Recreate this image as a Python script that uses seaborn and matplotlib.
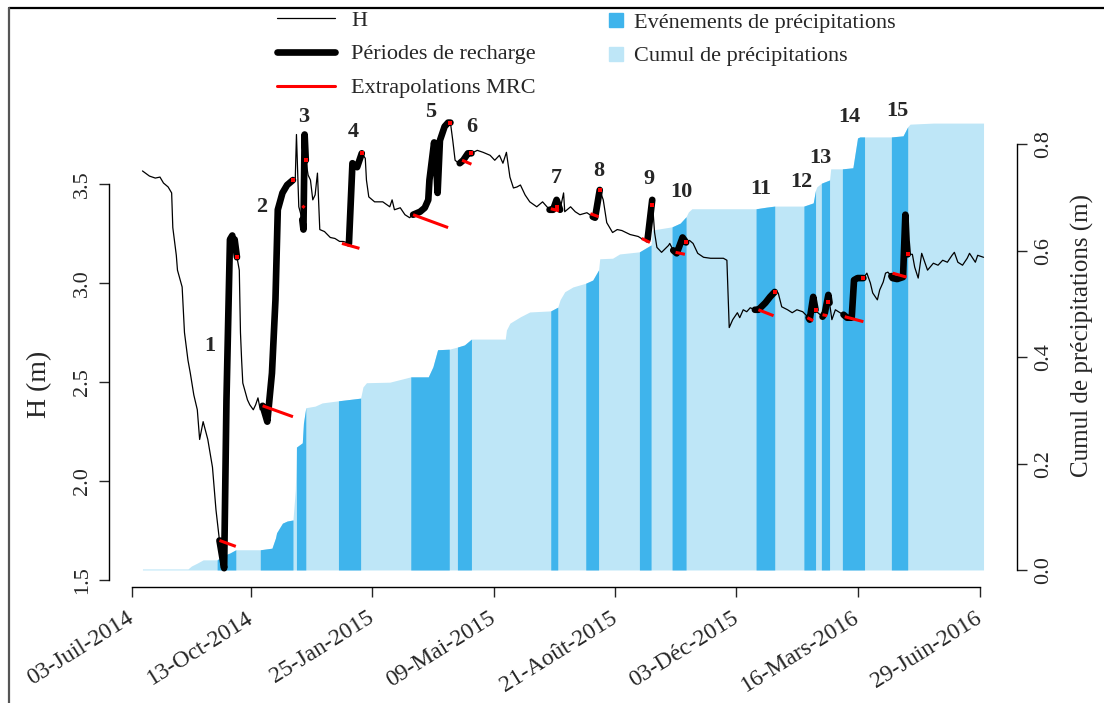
import numpy as np
import pandas as pd
import matplotlib
matplotlib.use("Agg")
import matplotlib.pyplot as plt
import matplotlib.dates as mdates
from matplotlib.lines import Line2D
import seaborn as sns

# ========== Données (jours depuis le 03-Juil-2014) ==========
h_days = [9, 15, 20, 24, 27, 31, 34, 35, 38, 39, 43, 45, 48, 50, 53, 56, 58, 61, 65, 69,
          72, 75, 79, 81, 84, 86, 87, 88, 90, 92, 93, 94, 95, 99, 101, 104, 106, 108, 110, 112,
          116, 117, 120, 123, 125, 129, 133, 138, 140, 141, 143, 146, 147, 148, 149, 151, 153, 155, 157, 159,
          161, 165, 170, 174, 178, 181, 184, 186, 189, 193, 195, 197, 200, 201, 203, 208, 215, 221, 223, 225,
          230, 234, 238, 241, 247, 251, 254, 255, 259, 261, 262, 264, 266, 268, 271, 273, 275, 277, 279, 281,
          284, 288, 291, 296, 301, 307, 311, 315, 318, 321, 324, 327, 330, 333, 337, 341, 347, 352, 358, 361,
          364, 367, 370, 371, 376, 380, 384, 390, 395, 397, 401, 404, 407, 412, 416, 420, 427, 434, 438, 442,
          446, 448, 450, 454, 460, 461, 464, 467, 472, 475, 478, 481, 485, 490, 496, 502, 507, 510, 512, 515,
          519, 521, 524, 527, 530, 534, 537, 543, 547, 551, 554, 557, 562, 566, 570, 575, 580, 581, 584, 586,
          588, 592, 594, 597, 598, 600, 603, 607, 610, 613, 617, 619, 622, 627, 630, 633, 635, 639, 641, 644,
          646, 648, 651, 652, 656, 661, 663, 664, 665, 669, 671, 674, 677, 682, 687, 691, 695, 699, 703, 705,
          708, 712, 716, 718, 723, 725, 730]
h_vals = [3.566, 3.54, 3.53, 3.535, 3.505, 3.485, 3.455, 3.28, 3.14, 3.065, 2.98, 2.75, 2.61, 2.545, 2.435, 2.36, 2.21, 2.30, 2.21, 2.07,
          1.855, 1.70, 1.56, 2.41, 3.22, 3.24, 3.17, 3.22, 3.13, 3.065, 2.75, 2.61, 2.495, 2.41, 2.385, 2.36, 2.385, 2.42, 2.36, 2.38,
          2.30, 2.36, 2.545, 2.915, 3.37, 3.455, 3.495, 3.52, 3.53, 3.75, 3.385, 3.32, 3.27, 3.75, 3.62, 3.545, 3.52, 3.42, 3.445, 3.555,
          3.27, 3.26, 3.23, 3.225, 3.21, 3.21, 3.205, 3.20, 3.605, 3.585, 3.62, 3.655, 3.63, 3.52, 3.435, 3.41, 3.41, 3.385, 3.42, 3.37,
          3.38, 3.345, 3.33, 3.345, 3.36, 3.38, 3.42, 3.52, 3.71, 3.57, 3.455, 3.72, 3.755, 3.79, 3.81, 3.81, 3.72, 3.62, 3.61, 3.605,
          3.62, 3.655, 3.655, 3.67, 3.66, 3.645, 3.62, 3.645, 3.605, 3.66, 3.535, 3.48, 3.485, 3.495, 3.445, 3.41, 3.385, 3.41, 3.37, 3.37,
          3.42, 3.37, 3.455, 3.36, 3.385, 3.36, 3.345, 3.355, 3.335, 3.33, 3.47, 3.42, 3.305, 3.255, 3.27, 3.265, 3.245, 3.235, 3.22, 3.22,
          3.42, 3.255, 3.18, 3.155, 3.19, 3.20, 3.165, 3.15, 3.23, 3.205, 3.215, 3.20, 3.15, 3.13, 3.125, 3.125, 3.125, 3.115, 2.775, 2.815,
          2.85, 2.825, 2.865, 2.855, 2.875, 2.865, 2.865, 2.90, 2.93, 2.955, 2.95, 2.88, 2.865, 2.85, 2.865, 2.855, 2.825, 2.815, 2.93, 2.865,
          2.85, 2.83, 2.85, 2.94, 2.90, 2.815, 2.865, 2.85, 2.84, 2.825, 2.825, 3.015, 3.025, 3.025, 3.05, 3.00, 2.95, 2.915, 2.965, 3.005,
          3.05, 3.055, 3.035, 3.025, 3.02, 3.03, 3.345, 3.215, 3.145, 3.145, 3.08, 3.025, 3.15, 3.065, 3.10, 3.09, 3.115, 3.105, 3.14, 3.155,
          3.105, 3.09, 3.125, 3.15, 3.105, 3.14, 3.13]

# Périodes de recharge (début, fin) en jours
recharge_periods = [(75, 90), (112, 138), (146, 149), (186, 197), (241, 273), (281, 291), (358, 367),
                    (395, 401), (442, 446), (464, 475), (534, 551), (580, 586), (592, 598), (610, 627), (651, 665)]

# Extrapolations MRC : (jour début, H début, jour fin, H fin)
mrc_lines = [(75, 1.70, 89, 1.67), (112, 2.38, 138, 2.325), (146, 3.39, 148, 3.38), (180, 3.20, 195, 3.175),
             (241, 3.345, 271, 3.28), (283, 3.62, 291, 3.60), (359, 3.375, 366, 3.365), (393, 3.35, 400, 3.335),
             (437, 3.225, 444, 3.205), (466, 3.155, 474, 3.145), (537, 2.865, 550, 2.835), (579, 2.825, 584, 2.81),
             (592, 2.84, 596, 2.835), (611, 2.83, 627, 2.805), (652, 3.05, 664, 3.03)]
mrc_peak_days = [90, 138, 149, 197, 273, 291, 364, 401, 446, 475, 551, 586, 597, 627, 665]
mrc_peak_vals = [3.13, 3.52, 3.62, 3.655, 3.81, 3.655, 3.385, 3.47, 3.395, 3.205, 2.955, 2.865, 2.905, 3.025, 3.145]

# Cumul de précipitations (m)
cum_days = [9, 48, 51, 56, 61, 73, 77, 84, 89, 110, 120, 123, 124, 129, 133, 138, 140, 141, 146, 147,
            149, 157, 163, 177, 196, 198, 201, 221, 239, 254, 258, 262, 272, 279, 285, 291, 320, 321, 324, 333,
            341, 359, 365, 367, 371, 378, 389, 395, 400, 401, 412, 418, 435, 445, 446, 463, 470, 475, 477, 480,
            535, 544, 551, 576, 584, 586, 587, 591, 598, 599, 609, 618, 622, 624, 628, 651, 661, 665, 667, 687, 730]
cum_vals = [0.002, 0.002, 0.0075, 0.013, 0.019, 0.019, 0.026, 0.032, 0.038, 0.038, 0.041, 0.06, 0.07, 0.088, 0.092, 0.094, 0.15, 0.231, 0.239, 0.276,
            0.305, 0.308, 0.314, 0.318, 0.323, 0.344, 0.352, 0.353, 0.363, 0.363, 0.382, 0.414, 0.415, 0.419, 0.423, 0.434, 0.434, 0.451, 0.464, 0.476,
            0.485, 0.487, 0.494, 0.508, 0.523, 0.532, 0.539, 0.545, 0.564, 0.585, 0.586, 0.594, 0.598, 0.611, 0.639, 0.645, 0.652, 0.664, 0.673, 0.679,
            0.679, 0.682, 0.684, 0.684, 0.690, 0.714, 0.720, 0.727, 0.733, 0.754, 0.754, 0.756, 0.812, 0.814, 0.814, 0.814, 0.816, 0.833, 0.838, 0.840, 0.840]

# Evénements de précipitations (début, fin)
rain_events = [(73, 89), (110, 138), (141, 149), (177, 196), (239, 272), (279, 291), (359, 365), (389, 400),
               (435, 445), (463, 475), (535, 551), (576, 586), (591, 598), (609, 628), (651, 665)]

# Numéros des événements et leur position (jour, H)
event_labels = [str(i) for i in range(1, 16)]
event_label_days = [67, 111, 147, 190, 256, 291, 364, 400, 443, 471, 539, 574, 590, 615, 656]
event_label_h = [2.68, 3.384, 3.838, 3.763, 3.864, 3.788, 3.53, 3.566, 3.525, 3.46, 3.475, 3.51, 3.631, 3.838, 3.869]

tick_dates = ["2014-07-03", "2014-10-13", "2015-01-25", "2015-05-09", "2015-08-21", "2015-12-03", "2016-03-16", "2016-06-29"]
tick_labels = ["03-Juil-2014", "13-Oct-2014", "25-Jan-2015", "09-Mai-2015", "21-Août-2015", "03-Déc-2015",
               "16-Mars-2016", "29-Juin-2016"]

base = pd.Timestamp("2014-07-03")


def to_date(d):
    return base + pd.to_timedelta(np.asarray(d, dtype=float), unit="D")


# ========== Style ==========
sns.set_style("ticks")
plt.rcParams["font.family"] = ["Liberation Serif", "DejaVu Serif"]
plt.rcParams["font.size"] = 16

dark_blue = "#3FB4EC"
light_blue = "#BEE6F7"

fig = plt.figure(figsize=(11.04, 7.03), dpi=100)
W, Hpx = 1104, 703
ax = fig.add_axes([109 / W, (Hpx - 587) / Hpx, 908 / W, 482 / Hpx])
ax2 = ax.twinx()

# ========== Précipitations (axe droit) ==========
cum = pd.DataFrame({"day": cum_days, "cumul": cum_vals})
cum["date"] = to_date(cum["day"])
ax2.fill_between(cum["date"], 0, cum["cumul"], color=light_blue, lw=0)
for s, e in rain_events:
    sub = cum[(cum["day"] >= s) & (cum["day"] <= e)]
    ax2.fill_between(sub["date"], 0, sub["cumul"], color=dark_blue, lw=0)

# ========== Niveau H (axe gauche) ==========
df = pd.DataFrame({"day": h_days, "H": h_vals})
df["date"] = to_date(df["day"])
sns.lineplot(data=df, x="date", y="H", ax=ax, color="black", lw=0.9, estimator=None, sort=False)
for s, e in recharge_periods:
    sub = df[(df["day"] >= s) & (df["day"] <= e)]
    sns.lineplot(data=sub, x="date", y="H", ax=ax, color="black", lw=4.8, estimator=None, sort=False)
for d0, h0, d1, h1 in mrc_lines:
    ax.plot(to_date([d0, d1]), [h0, h1], color="red", lw=2.2, solid_capstyle="butt")
ax.scatter(to_date(mrc_peak_days), mrc_peak_vals, color="red", marker="s", s=10, lw=0, zorder=5)

for lab, d, h in zip(event_labels, event_label_days, event_label_h):
    ax.text(to_date([d])[0], h, lab, ha="center", va="center", fontsize=16, fontweight="bold")

ax.set_zorder(ax2.get_zorder() + 1)
ax.patch.set_visible(False)

# ========== Axes ==========
ax.set_xlim(to_date([-19.7])[0], to_date([758.7])[0])
ax.set_ylim(1.465, 3.899)
ax2.set_ylim(-0.032, 0.874)

td = pd.to_datetime(tick_dates)
ax.set_xticks(td)
ax.set_xticklabels(tick_labels, rotation=32, ha="right", va="center", rotation_mode="anchor")
ax.set_yticks([1.5, 2.0, 2.5, 3.0, 3.5])
ax.set_yticklabels(["1.5", "2.0", "2.5", "3.0", "3.5"], rotation=90, va="center")
ax2.set_yticks([0.0, 0.2, 0.4, 0.6, 0.8])
ax2.set_yticklabels(["0.0", "0.2", "0.4", "0.6", "0.8"], rotation=90, va="center")

ax.tick_params(axis="x", length=7, width=1, labelsize=17, pad=14)
ax.tick_params(axis="y", length=7, width=1, labelsize=16, pad=5)
ax2.tick_params(axis="y", length=7, width=1, labelsize=16, pad=5)
ax.set_xlabel("")
ax.set_ylabel("")

for sp in ["top", "right"]:
    ax.spines[sp].set_visible(False)
for sp in ["top", "left", "bottom"]:
    ax2.spines[sp].set_visible(False)
ax.spines["left"].set_bounds(1.5, 3.5)
ax.spines["bottom"].set_bounds(mdates.date2num(td[0]), mdates.date2num(td[-1]))
ax2.spines["right"].set_bounds(0.0, 0.8)
for a in (ax, ax2):
    for sp in a.spines.values():
        sp.set_linewidth(1.0)
        sp.set_color("black")

fig.text(40 / W, 1 - 384 / Hpx, "H (m)", rotation=90, ha="center", va="center", fontsize=20)
fig.text(1082 / W, 1 - 335 / Hpx, "Cumul de précipitations (m)", rotation=90, ha="center", va="center", fontsize=18)

# ========== Légendes ==========
h_handles = [Line2D([], [], color="black", lw=0.9),
             Line2D([], [], color="black", lw=4.8),
             Line2D([], [], color="red", lw=2.2)]
fig.legend(h_handles, ["H", "Périodes de recharge", "Extrapolations MRC"], loc="upper left",
           bbox_to_anchor=(277 / W, 1 - 10 / Hpx), frameon=False, borderpad=0, borderaxespad=0,
           handlelength=2.6, handletextpad=0.75, labelspacing=0.6, fontsize=16)
p_handles = [Line2D([], [], color=dark_blue, marker="s", ls="", markersize=9.5),
             Line2D([], [], color=light_blue, marker="s", ls="", markersize=9.5)]
fig.legend(p_handles, ["Evénements de précipitations", "Cumul de précipitations"], loc="upper left",
           bbox_to_anchor=(607 / W, 1 - 12 / Hpx), frameon=False, borderpad=0, borderaxespad=0,
           handlelength=0.8, handletextpad=0.4, labelspacing=0.6, fontsize=16)

# cadre partiel de la figure
fig.add_artist(Line2D([9 / W, 1], [1 - 8 / Hpx, 1 - 8 / Hpx], transform=fig.transFigure, color="black", lw=1.6))
fig.add_artist(Line2D([9 / W, 9 / W], [0, 1 - 8 / Hpx], transform=fig.transFigure, color="#555555", lw=1.6))

fig.savefig("out.png", dpi=100)
